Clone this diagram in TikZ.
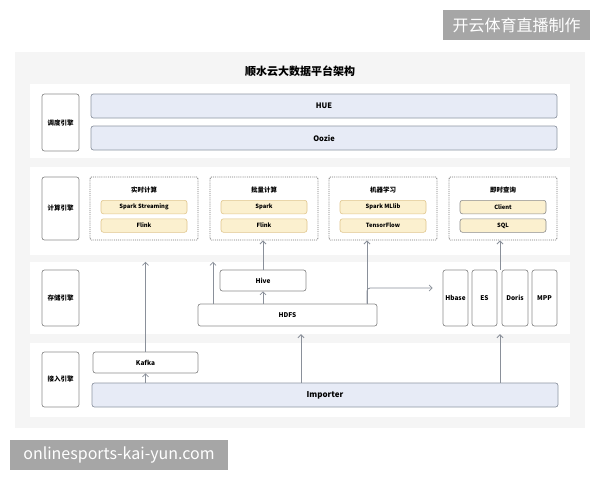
\documentclass[tikz,border=0pt]{standalone}
\usepackage{fontspec}
\setmainfont{Noto Sans CJK SC}
\usetikzlibrary{positioning,arrows.meta,calc}
\definecolor{panelgray}{HTML}{F5F5F5}
\definecolor{edgegray}{HTML}{8C8C8C}
\definecolor{bargray}{HTML}{8F96A3}
\definecolor{barblue}{HTML}{E7EBF6}
\definecolor{grpgray}{HTML}{777777}
\definecolor{itemfill}{HTML}{FBF0CF}
\definecolor{itemedge}{HTML}{E0C68E}
\definecolor{arrowgray}{HTML}{8A909A}
\definecolor{wmgray}{HTML}{A6A6A6}
\tikzset{
  band/.style={fill=white,draw=none,inner sep=0pt,minimum width=540},
  eng/.style={draw=edgegray,fill=white,rounded corners=2.5pt,line width=0.7pt,
    minimum width=37,inner sep=0pt,font=\bfseries\fontsize{6.5}{7}\selectfont},
  bar/.style={draw=bargray,fill=barblue,rounded corners=2.5pt,line width=0.7pt,
    minimum width=466,minimum height=24,inner sep=0pt,font=\bfseries\fontsize{7.5}{8}\selectfont},
  grp/.style={draw=grpgray,densely dotted,line width=0.9pt,rounded corners=1.5pt,
    minimum width=108,minimum height=63,inner sep=0pt},
  grptitle/.style={inner sep=0pt,font=\bfseries\fontsize{6.5}{7}\selectfont},
  item/.style={draw=itemedge,fill=itemfill,rounded corners=2.5pt,line width=0.6pt,
    minimum width=86,minimum height=13.5,inner sep=0pt,font=\bfseries\fontsize{5.8}{6}\selectfont},
  qitem/.style={item,draw=edgegray},
  store/.style={draw=edgegray,fill=white,rounded corners=2.5pt,line width=0.7pt,
    inner sep=0pt,font=\bfseries\fontsize{6.5}{7}\selectfont},
  flow/.style={-{Straight Barb[length=3pt,width=6pt]},draw=arrowgray,line width=0.8pt},
  wmark/.style={fill=wmgray,text=white,inner sep=0pt,font=\fontsize{16}{18}\selectfont},
}
\begin{document}
\begin{tikzpicture}[x=1pt,y=-1pt]
  \useasboundingbox (0,0) rectangle (600,480);
  % outer panel and title
  \fill[panelgray] (15,52) rectangle (585,428);
  \node[font=\bfseries\fontsize{11}{12}\selectfont] (title) at (300,71) {顺水云大数据平台架构};
  % layer bands
  \node[band,minimum height=74] (r1) at (300,121) {};
  \node[band,minimum height=88] (r2) at (300,211) {};
  \node[band,minimum height=72] (r3) at (300,298) {};
  \node[band,minimum height=74] (r4) at (300,380) {};
  % scheduling
  \node[eng,minimum height=57] (e1) at (60.5,122.5) {调度引擎};
  \node[bar] (hue) at (324,106) {HUE};
  \node[bar] (oozie) at (324,138) {Oozie};
  % compute
  \node[eng,minimum height=63] (e2) at (60.5,208.5) {计算引擎};
  \node[grp] (g1) at (144,208.5) {};
  \node[grp] (g2) at (264,208.5) {};
  \node[grp] (g3) at (383,208.5) {};
  \node[grp] (g4) at (503,208.5) {};
  \node[grptitle] (t1) at ($(g1.north)+(0,13)$) {实时计算};
  \node[grptitle] (t2) at ($(g2.north)+(0,13)$) {批量计算};
  \node[grptitle] (t3) at ($(g3.north)+(0,13)$) {机器学习};
  \node[grptitle] (t4) at ($(g4.north)+(0,13)$) {即时查询};
  \node[item] (sstream) at ($(g1.north)+(0,30.5)$) {Spark Streaming};
  \node[item] (flink1) at ($(g1.north)+(0,49)$) {Flink};
  \node[item] (spark) at ($(g2.north)+(0,30.5)$) {Spark};
  \node[item] (flink2) at ($(g2.north)+(0,49)$) {Flink};
  \node[item] (mllib) at ($(g3.north)+(0,30.5)$) {Spark MLlib};
  \node[item] (tflow) at ($(g3.north)+(0,49)$) {TensorFlow};
  \node[qitem] (client) at ($(g4.north)+(0,30.5)$) {Client};
  \node[qitem] (sql) at ($(g4.north)+(0,49)$) {SQL};
  % storage
  \node[eng,minimum height=56] (e3) at (60.5,298) {存储引擎};
  \node[store,minimum width=86,minimum height=21] (hive) at (263,280.5) {Hive};
  \node[store,minimum width=179,minimum height=22] (hdfs) at (287.5,315) {HDFS};
  \node[store,minimum width=25,minimum height=56] (hbase) at (455.5,298) {Hbase};
  \node[store,minimum width=25,minimum height=56] (es) at (484.5,298) {ES};
  \node[store,minimum width=26,minimum height=56] (doris) at (515,298) {Doris};
  \node[store,minimum width=25,minimum height=56] (mpp) at (544.5,298) {MPP};
  % ingestion
  \node[eng,minimum height=55] (e4) at (60.5,379.5) {接入引擎};
  \node[store,minimum width=105,minimum height=21] (kafka) at (145.5,362.5) {Kafka};
  \node[bar,font=\bfseries\fontsize{8}{9}\selectfont] (importer) at (325,395) {Importer};
  % flows
  \coordinate (tapA) at (213,0);
  \coordinate (tapB) at (301,0);
  \coordinate (tapC) at (367,0);
  \coordinate (tapD) at (500,0);
  \draw[flow] (importer.north -| kafka) -- (kafka.south);
  \draw[flow] (kafka.north) -- (kafka.north |- r3.north);
  \draw[flow] (hdfs.north -| tapA) -- (tapA |- r3.north);
  \draw[flow] (hive |- hdfs.north) -- (hive.south);
  \draw[flow] (hive.north) -- (hive.north |- g2.south);
  \draw[flow] (importer.north -| tapB) -- (tapB |- r3.south);
  \draw[flow] (hdfs.north -| tapC) -- (tapC |- g3.south);
  \draw[flow,rounded corners=3pt] (hdfs.north -| tapC) |- ($(hbase.west)+(-10,-10)$);
  \draw[flow] (importer.north -| tapD) -- (tapD |- r3.south);
  \draw[flow] (doris.north -| tapD) -- (tapD |- g4.south);
  % watermarks
  \node[wmark,minimum width=147,minimum height=30] (wm1) at (516.5,25) {开云体育直播制作};
  \node[wmark,minimum width=218,minimum height=30] (wm2) at (119,455) {onlinesports-kai-yun.com};
\end{tikzpicture}
\end{document}
